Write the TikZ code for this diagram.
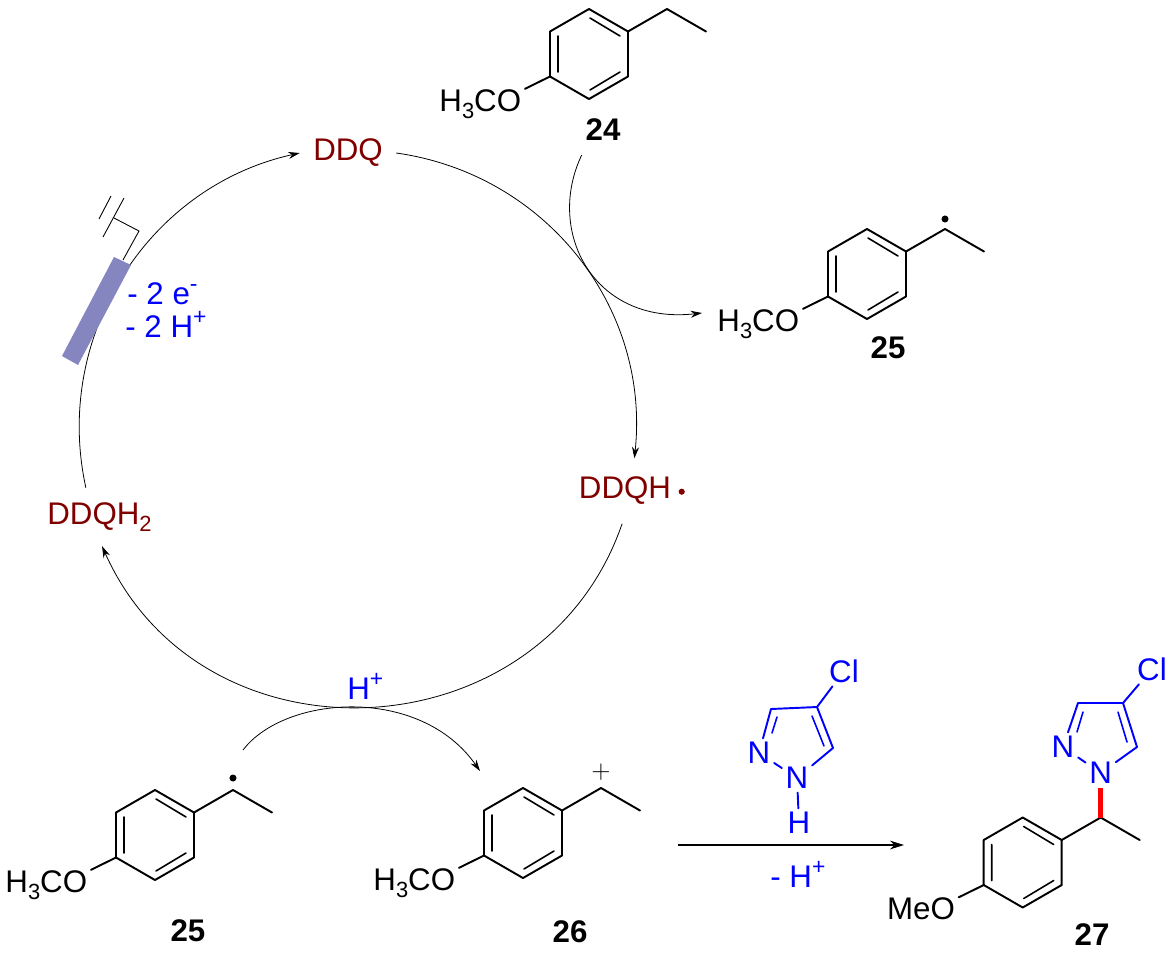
\documentclass[tikz,border=0pt]{standalone}
\usepackage{fontspec}
\setmainfont{Liberation Sans}
\usetikzlibrary{arrows.meta}
\definecolor{ddqred}{HTML}{800000}
\definecolor{plate}{HTML}{8585BF}
\newcommand{\sbs}[1]{\raisebox{-4.4pt}{\fontsize{12.5}{13}\selectfont #1}}
\newcommand{\spr}[1]{\raisebox{7pt}{\fontsize{13}{13}\selectfont #1}}
\tikzset{
every node/.style={font=\fontsize{17.8}{20}\selectfont,inner sep=2pt},
bond/.style={line width=1.1pt,line join=round,line cap=round},
thinbond/.style={line width=.9pt,line cap=round},
cyc/.style={line width=.45pt,-{Stealth[length=6.5pt,width=4pt]}},
wire/.style={line width=.5pt},
oxy/.style={anchor=base east,inner ysep=0pt},
lab/.style={font=\fontsize{17.8}{20}\selectfont\bfseries},
ddq/.style={text=ddqred},
reag/.style={text=blue,anchor=base west,inner sep=0pt},
atom/.style={text=blue,inner sep=2pt},
raddot/.style={circle,fill=black,inner sep=0pt,minimum size=4pt}
}
\newcommand{\arene}[3]{%
\begin{scope}[shift={(#2)}]
\draw[bond] (0,-45) -- (39,-22.5) -- (39,22.5) -- (0,45) -- (-39,22.5) -- (-39,-22.5) -- cycle;
\draw[bond] (39,-22.5) -- (78,-45) coordinate (#1c) -- (117,-22.5);
\draw[thinbond] (-31,-18) -- (-31,18) (1,-36) -- (31,-18) (1,36) -- (31,18);
\node[oxy] (#1o) at (-64,57) {#3};
\draw[bond] (-39,22.5) -- (#1o.north east);
\end{scope}}

\begin{document}
\begin{tikzpicture}[x=.02cm,y=-.02cm]
\useasboundingbox (0,0) rectangle (1176,964);

% catalytic cycle
\node[ddq,inner xsep=7.5pt,inner ysep=6pt] (qa) at (348,153) {DDQ};
\node[ddq,inner ysep=10.5pt] (qb) at (625,491) {DDQH};
\node[raddot,fill=ddqred,minimum size=3.5pt] (qbdot) at (681.7,491.7) {};
\node[ddq,anchor=base,inner xsep=2pt,inner ysep=8pt] (qc) at (99.5,524) {DDQH\sbs{2}};
\draw[cyc] (qa.east) to[bend left=44] (qb.74);
\draw[cyc] (qb.265) to[bend left=68.5,looseness=1.21] (qc.275);
\draw[cyc] (qc.115) to[bend left=45] (qa.west);

% electrode
\fill[plate] (114,257) -- (131,265) -- (78,365) -- (62,356) -- cycle;
\draw[wire] (123,260) -- (139,231) -- (114,218);
\draw[wire] (111,196) -- (99,219) (124,198) -- (103,237);
\node[reag] (ea) at (127,304) {- 2 e\spr{-}};
\node[reag] (eb) at (125,337) {- 2 H\spr{+}};

% substrate and radical
\arene{sa}{589,54}{H\sbs{3}CO}
\node[lab] (labsa) at (603,130) {24};
\arene{ra}{867,274}{H\sbs{3}CO}
\node[raddot] (doa) at (945,219) {};
\node[lab] (labra) at (888,348) {25};
\coordinate (ha) at (581.7,155);
\coordinate (hb) at (702,313);
\draw[cyc] (ha) .. controls (545,232) and (594,325) .. (hb);

% bottom row
\arene{rb}{155,835}{H\sbs{3}CO}
\node[raddot] (dob) at (233,778) {};
\node[lab] (labrb) at (188,931) {25};
\arene{ca}{523,833}{H\sbs{3}CO}
\node[inner sep=0pt,font=\fontsize{15}{15}\selectfont] (plus) at (601,772) {$+$};
\node[lab] (labca) at (570,932) {26};
\node[reag] (hplus) at (347,699) {H\spr{+}};
\coordinate (hc) at (243,750);
\coordinate (hd) at (480,771);
\draw[cyc] (hc) .. controls (285,695) and (420,685) .. (hd);

% pyrazole
\node[atom] (na) at (797,778) {N};
\node[atom] (nb) at (759,753) {N};
\node[atom] (nh) at (799,823) {H};
\node[atom] (cla) at (844,671) {Cl};
\coordinate (cc) at (771,709);
\coordinate (cd) at (817,707);
\coordinate (ce) at (833,748);
\draw[bond,blue] (nb) -- (cc) -- (cd) -- (ce) -- (na) -- (nb) (na) -- (nh) (cd) -- (cla);
\draw[thinbond,blue] (777,717) -- (772,733) (812,716) -- (824,746);

\coordinate (ra) at (678,845);
\coordinate (rb) at (904,845);
\draw[line width=.6pt,-{Stealth[length=8pt,width=5pt]}] (ra) -- (rb);
\node[reag] (hminus) at (770,887) {- H\spr{+}};

% product
\arene{pa}{1022.7,862.5}{MeO}
\node[lab] (labpa) at (1092,935) {27};
\node[atom] (nc) at (1100.7,773) {N};
\node[atom] (nd) at (1063,747) {N};
\node[atom] (clb) at (1152,669) {Cl};
\coordinate (cf) at (1078,703);
\coordinate (cg) at (1123,703);
\coordinate (ch) at (1137,747);
\draw[bond,blue] (nd) -- (cf) -- (cg) -- (ch) -- (nc) -- (nd) (cg) -- (clb);
\draw[thinbond,blue] (1083,712) -- (1077,732) (1118,712) -- (1127,742);
\draw[line width=2.9pt,red] (nc) -- (pac);
\end{tikzpicture}
\end{document}
